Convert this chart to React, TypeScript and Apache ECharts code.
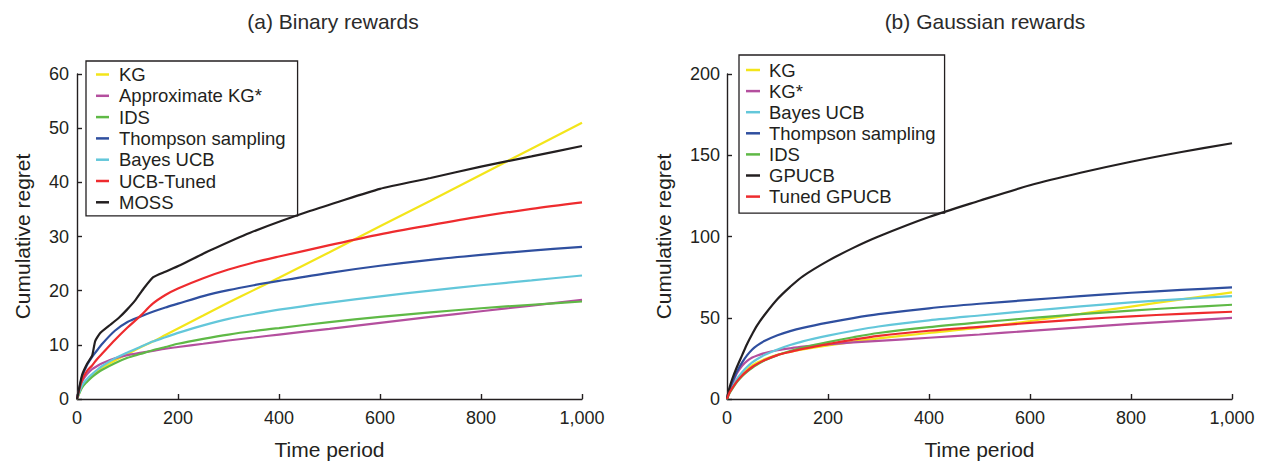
import React, { useEffect, useRef } from "react";
import * as echarts from "echarts";

const FONT = '"Liberation Sans", Arial, Helvetica, sans-serif';
const TXT = "#231f20";

// ---------- (a) Binary rewards ----------
const leftX = [0, 10, 20, 30, 40, 50, 75, 100, 125, 150, 175, 200, 250, 300, 350, 400, 500, 600, 700, 800, 900, 1000];
const aKG = [0, 2.3, 3.5, 4.4, 5.1, 5.8, 7.1, 8.3, 9.5, 10.6, 11.8, 13.0, 15.4, 17.8, 20.1, 22.4, 27.1, 31.9, 36.6, 41.4, 46.2, 51.0];
const aApproxKG = [0, 3.2, 4.6, 5.5, 6.1, 6.6, 7.5, 8.1, 8.5, 8.9, 9.3, 9.6, 10.2, 10.8, 11.35, 11.9, 12.95, 14.05, 15.15, 16.2, 17.25, 18.3];
const aIDS = [0, 2.1, 3.2, 4.1, 4.8, 5.4, 6.6, 7.6, 8.3, 9.0, 9.6, 10.2, 11.1, 11.9, 12.55, 13.1, 14.2, 15.15, 16.0, 16.75, 17.4, 18.0];
const aThompson = [0, 4.0, 6.3, 7.8, 9.0, 10.2, 12.6, 14.2, 15.2, 16.1, 16.9, 17.6, 19.0, 20.1, 21.0, 21.8, 23.3, 24.6, 25.7, 26.6, 27.4, 28.1];
const aBayesUCB = [0, 2.5, 3.7, 4.6, 5.4, 6.1, 7.5, 8.6, 9.6, 10.6, 11.4, 12.2, 13.6, 14.8, 15.7, 16.5, 17.8, 18.95, 20.0, 21.0, 21.9, 22.8];
const aUCBTuned = [0, 3.5, 5.2, 6.2, 7.4, 8.4, 10.9, 13.2, 15.3, 17.6, 19.2, 20.4, 22.3, 23.9, 25.2, 26.3, 28.4, 30.4, 32.1, 33.7, 35.1, 36.3];
const mossX = [0, 10, 20, 30, 36, 46, 63, 83, 99, 116, 132, 151, 175, 204, 263, 343, 461, 600, 700, 800, 900, 1000];
const aMOSS = [0, 4.4, 6.5, 8.0, 10.7, 12.2, 13.5, 15.0, 16.5, 18.3, 20.4, 22.5, 23.5, 24.7, 27.4, 30.7, 34.7, 38.8, 40.8, 42.9, 44.8, 46.7];

// ---------- (b) Gaussian rewards ----------
const rightX = [0, 5, 10, 20, 30, 40, 50, 60, 75, 100, 125, 150, 200, 250, 300, 400, 500, 600, 700, 800, 900, 1000];
const bKG = [0, 4.2, 7, 12, 15.5, 18.3, 20.6, 22.4, 24.6, 27.2, 29, 30.5, 33, 35.2, 37.3, 40.6, 43.9, 48, 52.4, 56.9, 61.3, 65.6];
const bKGStar = [0, 5.5, 9, 16, 20.5, 23.5, 25.5, 26.8, 28.3, 30, 31.2, 32.2, 33.6, 34.8, 35.8, 37.7, 39.7, 41.9, 44.1, 46.2, 48.1, 49.9];
const bBayesUCB = [0, 4, 7, 12.5, 16.5, 19.8, 22.5, 24.6, 27.2, 30.5, 33.2, 35.5, 39, 42, 44.6, 48.4, 51.4, 54.3, 57, 59.5, 61.5, 63.3];
const bThompson = [0, 6, 10, 17, 22.5, 27, 30.5, 33, 35.8, 39.2, 41.8, 43.8, 47, 49.8, 52.2, 55.8, 58.6, 61, 63.3, 65.4, 67.1, 68.7];
const bIDS = [0, 3.5, 6, 10.5, 14, 16.8, 19.2, 21.2, 23.8, 27, 29.5, 31.6, 35, 38, 40.6, 44.2, 47.1, 49.8, 52.2, 54.4, 56.3, 58];
const bGPUCB = [0, 7, 12, 20, 27, 34, 40, 45.5, 52, 61.5, 69, 75.5, 85, 93, 100, 112, 122, 131.5, 139.2, 146, 152, 157.4];
const bTunedGPUCB = [0, 4, 6.5, 11, 14.5, 17.3, 19.7, 21.6, 24, 27, 29, 30.8, 33.8, 36.5, 38.8, 42, 44.4, 46.8, 49, 50.9, 52.4, 53.7];

const xTicks = [0, 200, 400, 600, 800, 1000];

const C = {
  yellow: "#f3e51a",
  purple: "#b44f9e",
  green: "#5fb946",
  blue: "#2f4f9f",
  cyan: "#63c7da",
  red: "#ee2b2e",
  black: "#231f20",
};

const zip = (xs: number[], ys: number[]) => xs.map((x, i) => [x, ys[i]]);

function line(name: string, color: string, xs: number[], ys: number[], idx: number, smooth: number | boolean = 0.3) {
  return {
    type: "line",
    name,
    xAxisIndex: idx,
    yAxisIndex: idx,
    data: zip(xs, ys),
    showSymbol: false,
    symbol: "none",
    smooth,
    color,
    lineStyle: { color, width: 2.2 },
    emphasis: { disabled: true },
  };
}

function xAxis(idx: number) {
  return {
    type: "value",
    gridIndex: idx,
    min: 0,
    max: 1000,
    interval: 200,
    axisLine: { show: true, onZero: false, lineStyle: { color: TXT, width: 1.4 } },
    axisTick: { show: true, inside: true, length: 5, lineStyle: { color: TXT, width: 1.4 } },
    axisLabel: {
      fontSize: 18,
      color: TXT,
      fontFamily: FONT,
      margin: 10,
      formatter: (v: number) => (xTicks.includes(v) ? v.toLocaleString("en-US") : ""),
    },
    splitLine: { show: false },
    name: "Time period",
    nameLocation: "middle",
    nameGap: 40,
    nameTextStyle: { fontSize: 21, color: TXT, fontFamily: FONT },
  };
}

function yAxis(idx: number, max: number, interval: number, nameGap: number, margin: number) {
  return {
    type: "value",
    gridIndex: idx,
    min: 0,
    max,
    interval,
    axisLine: { show: true, onZero: false, lineStyle: { color: TXT, width: 1.4 } },
    axisTick: { show: true, inside: true, length: 5, lineStyle: { color: TXT, width: 1.4 } },
    axisLabel: { fontSize: 18, color: TXT, fontFamily: FONT, margin },
    splitLine: { show: false },
    name: "Cumulative regret",
    nameLocation: "middle",
    nameRotate: 90,
    nameGap,
    nameTextStyle: { fontSize: 21, color: TXT, fontFamily: FONT },
  };
}

export default function App() {
  const ref = useRef<HTMLDivElement>(null);

  useEffect(() => {
    if (!ref.current) return;
    const chart = echarts.init(ref.current, undefined, { renderer: "svg" });
    const leftNames = ["KG", "Approximate KG*", "IDS", "Thompson sampling", "Bayes UCB", "UCB-Tuned", "MOSS"];
    const rightNames = ["KG", "KG*", "Bayes UCB", "Thompson sampling", "IDS", "GPUCB", "Tuned GPUCB"];
    chart.setOption({
      animation: false,
      backgroundColor: "#ffffff",
      textStyle: { fontFamily: FONT },
      grid: [
        { left: 77, top: 74, width: 505, height: 330, containLabel: false },
        { left: 727, top: 74, width: 505, height: 330, containLabel: false },
      ],
      xAxis: [xAxis(0), xAxis(1)],
      yAxis: [yAxis(0, 60, 10, 44, 8), yAxis(1, 200, 50, 53, 7)],
      legend: [
        {
          orient: "vertical",
          left: 86,
          top: 61,
          data: leftNames,
          icon: "rect",
          itemWidth: 13,
          itemHeight: 2.5,
          itemGap: 0.3,
          padding: [3, 12, 3, 10],
          borderColor: TXT,
          borderWidth: 1.3,
          selectedMode: false,
          textStyle: { fontSize: 18.5, lineHeight: 21, color: TXT, fontFamily: FONT, padding: [0, 0, 0, 5] },
        },
        {
          orient: "vertical",
          left: 739,
          top: 55,
          data: rightNames,
          icon: "rect",
          itemWidth: 14,
          itemHeight: 2.5,
          itemGap: 0.1,
          padding: [4.5, 9, 6, 7],
          borderColor: TXT,
          borderWidth: 1.3,
          selectedMode: false,
          textStyle: { fontSize: 18.5, lineHeight: 21, color: TXT, fontFamily: FONT, padding: [0, 0, 0, 4] },
        },
      ],
      graphic: [
        {
          type: "text",
          x: 333,
          y: 21,
          style: {
            text: "(a) Binary rewards",
            fontSize: 21,
            fontFamily: FONT,
            fill: "#2b2b2b",
            align: "center",
            verticalAlign: "middle",
            textAlign: "center",
            textVerticalAlign: "middle",
          },
        },
        {
          type: "text",
          x: 985,
          y: 21,
          style: {
            text: "(b) Gaussian rewards",
            fontSize: 21,
            fontFamily: FONT,
            fill: "#2b2b2b",
            align: "center",
            verticalAlign: "middle",
            textAlign: "center",
            textVerticalAlign: "middle",
          },
        },
      ],
      series: [
        line("KG", C.yellow, leftX, aKG, 0),
        line("Approximate KG*", C.purple, leftX, aApproxKG, 0),
        line("IDS", C.green, leftX, aIDS, 0),
        line("Thompson sampling", C.blue, leftX, aThompson, 0),
        line("Bayes UCB", C.cyan, leftX, aBayesUCB, 0),
        line("UCB-Tuned", C.red, leftX, aUCBTuned, 0),
        line("MOSS", C.black, mossX, aMOSS, 0, 0.15),
        line("KG", C.yellow, rightX, bKG, 1),
        line("KG*", C.purple, rightX, bKGStar, 1),
        line("Bayes UCB", C.cyan, rightX, bBayesUCB, 1),
        line("Thompson sampling", C.blue, rightX, bThompson, 1),
        line("IDS", C.green, rightX, bIDS, 1),
        line("GPUCB", C.black, rightX, bGPUCB, 1),
        line("Tuned GPUCB", C.red, rightX, bTunedGPUCB, 1),
      ],
    });
    return () => chart.dispose();
  }, []);

  return (
    <div
      ref={ref}
      style={{ position: "absolute", left: 0, top: 0, width: 1264, height: 465, background: "#fff" }}
    />
  );
}
